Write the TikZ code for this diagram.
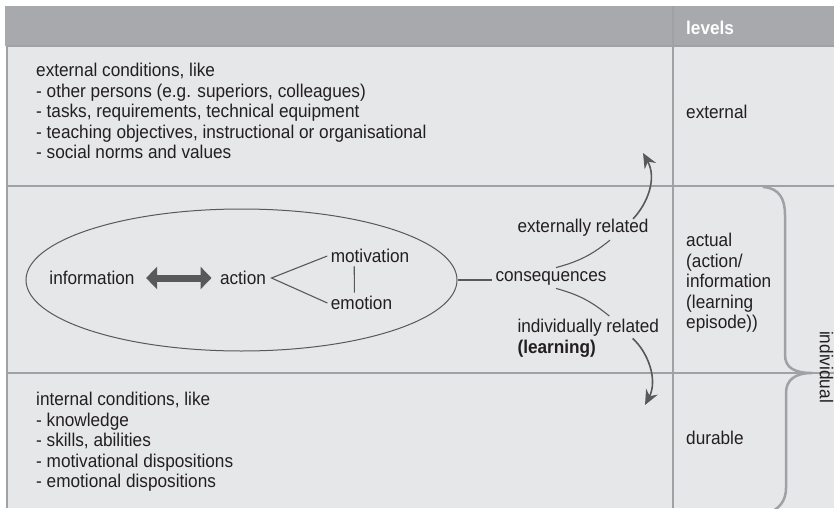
\documentclass[tikz,border=0pt]{standalone}
\usepackage{fontspec}
\setmainfont{Liberation Sans}[FakeStretch=0.93]
\usetikzlibrary{arrows.meta,shapes.geometric}

\definecolor{headgray}{HTML}{A7A9AC}
\definecolor{bodygray}{HTML}{E6E7E8}
\definecolor{rulegray}{HTML}{9FA1A4}
\definecolor{arrowgray}{HTML}{58595B}
\definecolor{inkgray}{HTML}{231F20}

\begin{document}
\begin{tikzpicture}[x=1pt,y=-1pt,
    every node/.style={font=\fontsize{18.5}{20.5}\selectfont, text=inkgray},
    block/.style={align=left, inner sep=0pt, anchor=west},
    rule/.style={rulegray, line width=1.4pt},
    link/.style={arrowgray, line width=1.1pt},
    flow/.style={arrowgray, line width=1.6pt, -{Stealth[length=15pt,width=13pt,inset=5pt]}},
    dblarrow/.style={arrowgray, line width=7pt,
        {Triangle[length=11pt,width=22pt]}-{Triangle[length=11pt,width=22pt]}}]
    \useasboundingbox (0,0) rectangle (834,508);
    \clip (0,0) rectangle (834,508);
        \fill[headgray] (5,6) rectangle (834,46);
        \fill[bodygray] (7,46) rectangle (834,508);
        \draw[rule] (7,46) -- (834,46);
        \draw[rule] (7,46) -- (7,508);
        \draw[rule] (7,186) -- (834,186);
        \draw[rule] (7,373) -- (834,373);
        \draw[rulegray, line width=1.1pt] (673,6) -- (673,508);

        \node[block, text=white, font=\fontsize{18.5}{20.5}\selectfont\bfseries] (levels) at (686,28) {levels};

        % rows of the table
        \node[block] (extcond) at (36,111) {external conditions, like\\
            - other persons (e.g. superiors, colleagues)\\
            - tasks, requirements, technical equipment\\
            - teaching objectives, instructional or organisational\\
            - social norms and values};
        \node[block] (intcond) at (36,442) {internal conditions, like\\
            - knowledge\\
            - skills, abilities\\
            - motivational dispositions\\
            - emotional dispositions};
        \node[block] (external) at (686,112) {external};
        \node[block] (actual) at (686,283) {actual\\(action/\\information\\(learning\\episode))};
        \node[block] (durable) at (686,438) {durable};

        % the episode
        \node[draw=arrowgray, line width=1pt, ellipse, minimum width=431pt, minimum height=142pt] (episode) at (241.5,280) {};
        \node (info) at (92,278) {information};
        \node (action) at (243,278) {action};
        \node (motivation) at (370,256) {motivation};
        \node (emotion) at (361.5,303) {emotion};
        \node (conseq) at (551,278) {consequences};
        \node[anchor=west] (extrel) at (514,228) {externally related};
        \node[anchor=west, align=left] (indrel) at (514,338.5) {individually related\\\textbf{(learning)}};

        \draw[dblarrow, shorten <=8pt, shorten >=5pt] (info) -- (action);
        \draw[link] (motivation.west) -- ([xshift=2pt]action.east) -- (emotion.west);
        \draw[link] ([xshift=27pt]motivation.south west) -- ([xshift=27pt]emotion.north west);
        \draw[link] (episode.east) -- (episode.east -| conseq.west);
        \draw[link] ([xshift=5pt]conseq.north) to[bend right=12] ([xshift=27pt]extrel.south);
        \draw[link] ([xshift=5pt]conseq.south) to[bend left=12] ([xshift=21pt]indrel.north);

        \coordinate (uptip) at (643,153);
        \coordinate (downtip) at (645,405);
        \draw[flow] ([xshift=-19pt,yshift=-3pt]extrel.north east) .. controls (648,203) and (657,178) .. (uptip);
        \draw[flow] ([xshift=-30pt]indrel.east) .. controls (648,352) and (658,380) .. (downtip);

        % brace
        \draw[rulegray, line width=2.5pt] (763,187) .. controls (780,188) and (785,200) .. (785,215) -- (785,355)
            .. controls (785,368) and (795,373) .. (812,373)
            .. controls (795,373) and (786,380) .. (786,393) -- (786,488)
            .. controls (786,500) and (780,510) .. (765,514);
        \node[rotate=-90, inner sep=0pt] (individual) at (826.5,367) {individual};
\end{tikzpicture}
\end{document}
